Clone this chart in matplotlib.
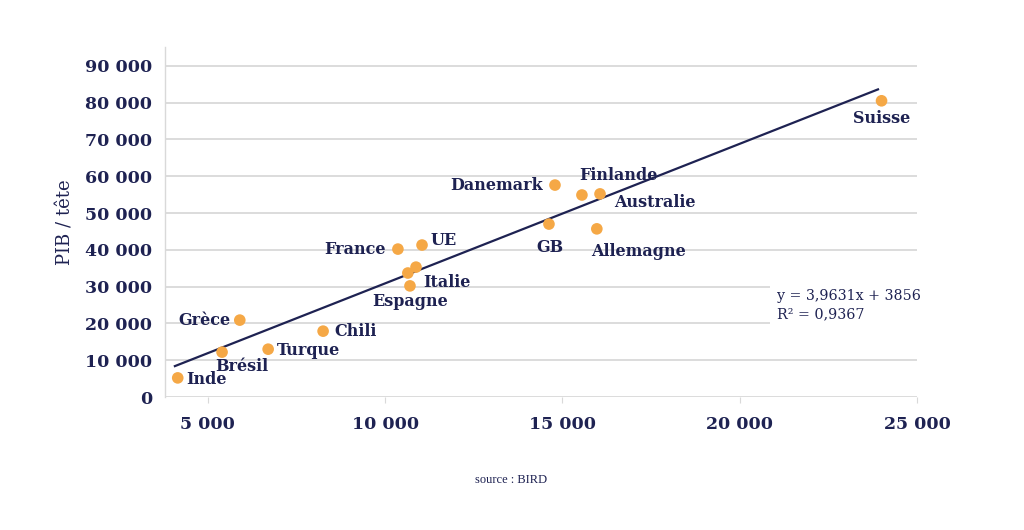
import numpy as np
import matplotlib
matplotlib.use("Agg")
import matplotlib.pyplot as plt

# data (x: ?, y: PIB / tête)
pays = ["Inde", "Brésil", "Grèce", "Turque", "Chili", "France", "UE",
        "", "Italie", "Espagne", "GB", "Danemark", "Finlande", "Australie",
        "Allemagne", "Suisse"]
x_val = [4150, 5400, 5900, 6700, 8250, 10360, 11040,
         10870, 10640, 10700, 14620, 14790, 15550, 16060, 15970, 24000]
y_val = [5200, 12200, 20900, 13000, 17900, 40200, 41300,
         35300, 33700, 30200, 47000, 57600, 54900, 55200, 45700, 80500]

# trend line end points as drawn
trend_x = [4070, 23900]
trend_y = [8400, 83600]

x_ticks = [5000, 10000, 15000, 20000, 25000]
y_ticks = [0, 10000, 20000, 30000, 40000, 50000, 60000, 70000, 80000, 90000]

# label offsets in points and alignment
lab_pos = {
    "Inde": (6, -1, "left", "center"),
    "Brésil": (14, -10, "center", "center"),
    "Grèce": (-7, 0, "right", "center"),
    "Turque": (6, -1, "left", "center"),
    "Chili": (8, 0, "left", "center"),
    "France": (-9, 0, "right", "center"),
    "UE": (6, 3, "left", "center"),
    "Italie": (11, -7, "left", "center"),
    "Espagne": (0, -11, "center", "center"),
    "GB": (1, -17, "center", "center"),
    "Danemark": (-9, 0, "right", "center"),
    "Finlande": (-2, 14, "left", "center"),
    "Australie": (10, -6, "left", "center"),
    "Allemagne": (-4, -16, "left", "center"),
    "Suisse": (0, -13, "center", "center"),
}

navy = "#1e2252"
orange = "#f5a846"
grid_c = "#d9d9d9"
serif = ["DejaVu Serif"]

fig = plt.figure(figsize=(10.24, 5.3), dpi=100)
ax = fig.add_axes([0.1611, 0.2509, 0.7344, 0.6596])

ax.set_xlim(3790, 25000)
ax.set_ylim(0, 95000)

ax.set_yticks(y_ticks)
ax.set_yticklabels([f"{v:,}".replace(",", " ") for v in y_ticks],
                   family=serif, fontweight="bold", fontsize=12.5, color=navy)
ax.set_xticks(x_ticks)
ax.set_xticklabels([f"{v:,}".replace(",", " ") for v in x_ticks],
                   family=serif, fontweight="bold", fontsize=12.5, color=navy)
ax.tick_params(axis="y", length=0, pad=9)
ax.tick_params(axis="x", length=4, color=grid_c, pad=10)

ax.grid(axis="y", color=grid_c, lw=1.3)
ax.set_axisbelow(True)
for s in ["top", "right", "bottom"]:
    ax.spines[s].set_visible(False)
ax.spines["left"].set_color(grid_c)
ax.spines["left"].set_linewidth(1.0)

ax.plot(trend_x, trend_y, color=navy, lw=1.6, zorder=2)
ax.scatter(x_val, y_val, s=70, color=orange, edgecolors="none", zorder=3)

for name, xv, yv in zip(pays, x_val, y_val):
    if not name:
        continue
    dx, dy, ha, va = lab_pos[name]
    ax.annotate(name, (xv, yv), xytext=(dx, dy), textcoords="offset points",
                ha=ha, va=va, family=serif, fontweight="bold",
                fontsize=11.5, color=navy, zorder=4)

ax.text(0.759, 0.424, "y = 3,9631x + 3856\nR² = 0,9367", transform=fig.transFigure,
        ha="left", va="center", family=serif, fontsize=10.3, color=navy,
        linespacing=1.45,
        bbox=dict(boxstyle="square,pad=0.5", fc="white", ec="none"), zorder=5)

ax.set_ylabel("PIB / tête", family=serif, fontsize=13, color=navy)
ax.yaxis.set_label_coords(-0.12, 0.5)

fig.text(0.499, 0.094, "source : BIRD", ha="center", va="center",
         family=["Liberation Serif"], fontsize=9, color=navy)

fig.savefig("out.png", dpi=100)
